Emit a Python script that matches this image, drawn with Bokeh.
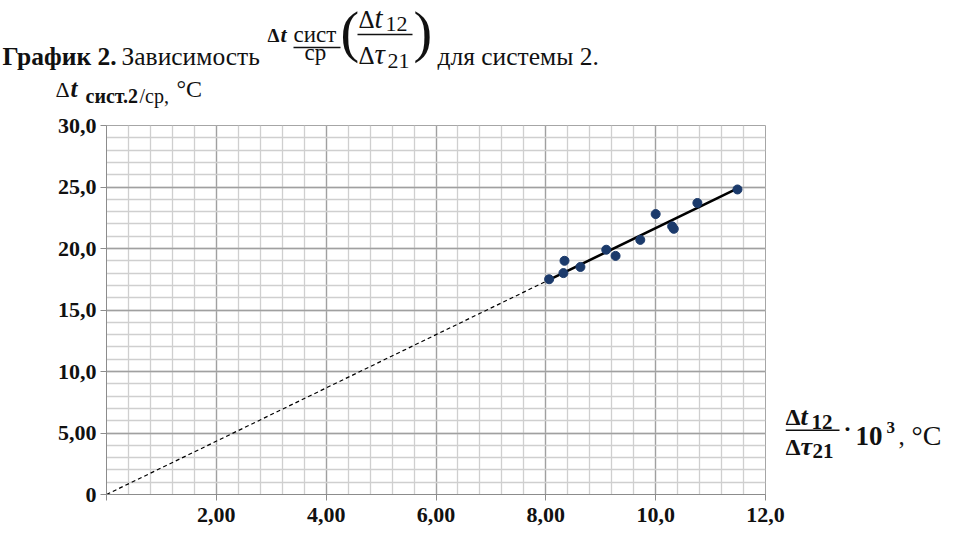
import numpy as np
from bokeh.plotting import figure
from bokeh.layouts import column, row
from bokeh.models import Range1d, SingleIntervalTicker
from bokeh.core.properties import value
from bokeh.embed import file_html
from bokeh.resources import INLINE

# ---- data ----
x_vals = [8.06, 8.32, 8.34, 8.63, 9.10, 9.27, 9.72, 10.00, 10.30, 10.33, 10.76, 11.49]
y_vals = [17.5, 18.0, 19.0, 18.5, 19.9, 19.4, 20.7, 22.8, 21.8, 21.6, 23.7, 24.8]
x_ticks = [0, 2, 4, 6, 8, 10, 12]
x_tick_labels = ["", "2,00", "4,00", "6,00", "8,00", "10,0", "12,0"]
y_ticks = [0, 5, 10, 15, 20, 25, 30]
y_tick_labels = ["0", "5,00", "10,0", "15,0", "20,0", "25,0", "30,0"]
trend_solid_from = 8.0
trend_solid_to = 11.5

# least squares line through origin
xa = np.array(x_vals); ya = np.array(y_vals)
slope = float((xa * ya).sum() / (xa * xa).sum())

SERIF = "Liberation Serif"
INK = "#111111"

# ---- layout geometry (page pixels) ----
PAGE_W = 954
TOP_H = 110                 # title strip height
MAIN_W, MAIN_H = 785, 422
FL, FT, FR, FB = 106, 125, 765, 494   # frame edges on the page
BASE_FIX = 0.35             # renderer draws alphabetic baseline ~0.35em low

def text_fig(w, h):
    f = figure(width=w, height=h, output_backend="svg", toolbar_location=None,
               x_range=Range1d(0, w), y_range=Range1d(h, 0),
               x_axis_type=None, y_axis_type=None,
               min_border=0, min_border_left=0, min_border_right=0,
               min_border_top=0, min_border_bottom=0)
    f.outline_line_color = None
    f.grid.visible = False
    f.background_fill_color = "white"
    f.border_fill_color = "white"
    return f

def put(f, ox, oy, s, px, py, size, style="normal", color=INK):
    f.text(x=[px - ox], y=[py - oy - BASE_FIX * size], text=[s], text_font=value(SERIF),
           text_font_size=value(f"{size}px"), text_font_style=style,
           text_color=color, text_align="left", text_baseline="alphabetic")

def bar(f, ox, oy, x0, x1, py, w=1.3):
    f.segment(x0=[x0 - ox], y0=[py - oy], x1=[x1 - ox], y1=[py - oy],
              line_color=INK, line_width=w)

# ---- title strip ----
top = text_fig(PAGE_W, TOP_H)
put(top, 0, 0, "График 2.", 2, 65, 25.5, "bold")
put(top, 0, 0, "Зависимость", 121, 65, 25.5)
put(top, 0, 0, "Δ", 267, 42, 19, "bold")
put(top, 0, 0, "t", 280, 42, 22, "bold italic")
put(top, 0, 0, "сист", 293, 42, 23)
bar(top, 0, 0, 293, 340, 47)
put(top, 0, 0, "ср", 304, 60, 23)
put(top, 0, 0, "(", 340, 51, 56)
put(top, 0, 0, "Δ", 358, 28, 25)
put(top, 0, 0, "t", 374, 28, 29, "italic")
put(top, 0, 0, "12", 385, 31, 22)
bar(top, 0, 0, 357, 412, 34)
put(top, 0, 0, "Δ", 358, 64, 25)
put(top, 0, 0, "τ", 374, 64, 29, "italic")
put(top, 0, 0, "21", 387, 68, 22)
put(top, 0, 0, ")", 413, 51, 56)
put(top, 0, 0, "для системы 2.", 437, 65, 25.5)
# y axis title
put(top, 0, 0, "Δ", 55, 97, 22)
put(top, 0, 0, "t", 70, 97, 25, "bold italic")
put(top, 0, 0, "сист.2", 85, 102, 20, "bold")
put(top, 0, 0, "/ср,", 139, 102, 20)
put(top, 0, 0, "°C", 176, 97, 24)

# ---- main chart ----
p = figure(width=MAIN_W, height=MAIN_H, output_backend="svg", toolbar_location=None,
           x_range=Range1d(0, 12), y_range=Range1d(0, 30),
           min_border_left=FL, min_border_right=MAIN_W - FR,
           min_border_top=FT - TOP_H, min_border_bottom=TOP_H + MAIN_H - FB)
p.background_fill_color = "white"
p.border_fill_color = "white"
p.outline_line_color = "#a6a6a6"

p.xaxis.ticker = SingleIntervalTicker(interval=2, num_minor_ticks=5)
p.yaxis.ticker = SingleIntervalTicker(interval=5, num_minor_ticks=5)
p.xaxis.major_label_overrides = {tk: lb for tk, lb in zip(x_ticks, x_tick_labels)}
p.yaxis.major_label_overrides = {tk: lb for tk, lb in zip(y_ticks, y_tick_labels)}
for ax in (p.xaxis, p.yaxis):
    ax.major_label_text_font = SERIF
    ax.major_label_text_font_style = "bold"
    ax.major_label_text_font_size = "22px"
    ax.major_label_text_color = INK
    ax.axis_line_color = "#8c8c8c"
    ax.major_tick_line_color = "#8c8c8c"
    ax.major_tick_out = 6
    ax.major_tick_in = 0
    ax.minor_tick_line_color = None
p.xaxis.major_label_standoff = 7
p.yaxis.major_label_standoff = 4

for g in (p.xgrid, p.ygrid):
    g.grid_line_color = "#a0a0a0"
    g.grid_line_width = 1.3
    g.minor_grid_line_color = "#cfcfcf"
    g.minor_grid_line_width = 1.3

p.line([0, trend_solid_from], [0, slope * trend_solid_from], line_color="black",
       line_width=1.2, line_dash="4 3")
p.line([trend_solid_from, trend_solid_to], [slope * trend_solid_from, slope * trend_solid_to],
       line_color="black", line_width=2.6)
p.scatter(x_vals, y_vals, size=9, fill_color="#1b3a6b", line_color="#1b3a6b")

# ---- x axis title strip (right of chart) ----
XW = PAGE_W - MAIN_W
side = text_fig(XW, MAIN_H)
ox, oy = MAIN_W, TOP_H
put(side, ox, oy, "Δ", 785, 452, 24, "bold")
put(side, ox, oy, "t", 800, 452, 26, "bold italic")
put(side, ox, oy, "12", 811, 456, 21, "bold")
bar(side, ox, oy, 785, 839, 458.5, 1.5)
put(side, ox, oy, "Δ", 785, 486, 24, "bold")
put(side, ox, oy, "τ", 800, 486, 26, "bold italic")
put(side, ox, oy, "21", 812, 490, 21, "bold")
put(side, ox, oy, "·", 843, 466, 24, "bold")
put(side, ox, oy, "10", 855, 474, 27, "bold")
put(side, ox, oy, "3", 886, 461, 17, "bold")
put(side, ox, oy, ",", 898, 474, 25)
put(side, ox, oy, "°C", 911, 474, 28)

layout = column(top, row(p, side, spacing=0), spacing=0)
open("out.html", "w").write(file_html(layout, INLINE))
